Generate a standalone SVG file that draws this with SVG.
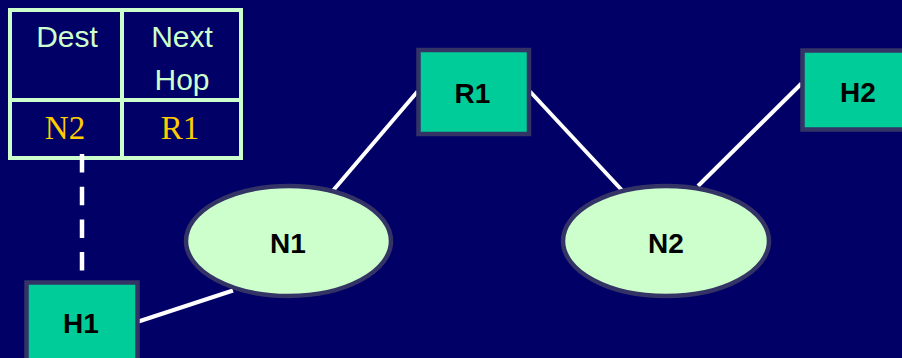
<svg xmlns="http://www.w3.org/2000/svg" width="902" height="358" viewBox="0 0 902 358">
  <style>
    .bg { fill: #000066; }
    .grid { fill: none; stroke: #CCFFCC; stroke-width: 4; }
    .head { font-family: "Liberation Sans", Arial, sans-serif; font-size: 30px; fill: #CCFFCC; text-anchor: middle; }
    .cell { font-family: "Liberation Serif", "Times New Roman", serif; font-size: 33px; fill: #FFCC00; text-anchor: middle; }
    .box { fill: #00CC99; stroke: #333366; stroke-width: 4.5; }
    .net { fill: #CCFFCC; stroke: #333366; stroke-width: 4.5; }
    .label { font-family: "Liberation Sans", Arial, sans-serif; font-size: 28px; font-weight: bold; fill: #000000; text-anchor: middle; }
    .link { stroke: #FFFFFF; stroke-width: 4; fill: none; }
    .dash { stroke: #FFFFFF; stroke-width: 4.5; stroke-dasharray: 18.5 14.2; fill: none; }
  </style>

  <rect class="bg" x="0" y="0" width="902" height="358"/>

  <!-- routing table of H1 -->
  <g id="table">
    <rect class="grid" x="10" y="10" width="231" height="148"/>
    <line class="grid" x1="122" y1="10" x2="122" y2="158"/>
    <line class="grid" x1="10" y1="100" x2="241" y2="100"/>
    <text class="head" x="67" y="47">Dest</text>
    <text class="head" x="182" y="47">Next</text>
    <text class="head" x="182" y="90">Hop</text>
    <text class="cell" x="65" y="139">N2</text>
    <text class="cell" x="180" y="139">R1</text>
  </g>

  <!-- connectors -->
  <g id="connectors">
    <line class="dash" x1="82" y1="154" x2="82" y2="271"/>
    <line class="link" x1="417.5" y1="91.5" x2="330.5" y2="193.5"/>
    <line class="link" x1="530" y1="91.5" x2="625" y2="193.5"/>
    <line class="link" x1="801.5" y1="83.5" x2="698" y2="186"/>
    <line class="link" x1="138.5" y1="321.5" x2="233" y2="290.5"/>
  </g>

  <g id="R1">
    <rect class="box" x="418.5" y="50" width="110.5" height="84"/>
    <text class="label" x="472.5" y="103">R1</text>
  </g>

  <g id="H2">
    <rect class="box" x="802.5" y="50.5" width="120" height="79"/>
    <text class="label" x="858" y="102">H2</text>
  </g>

  <g id="N1">
    <ellipse class="net" cx="288.5" cy="241" rx="102.5" ry="55"/>
    <text class="label" x="288" y="253">N1</text>
  </g>

  <g id="N2">
    <ellipse class="net" cx="666" cy="241" rx="103" ry="55"/>
    <text class="label" x="666" y="253">N2</text>
  </g>

  <g id="H1">
    <rect class="box" x="26.5" y="282.5" width="111" height="100"/>
    <text class="label" x="81" y="333">H1</text>
  </g>
</svg>
